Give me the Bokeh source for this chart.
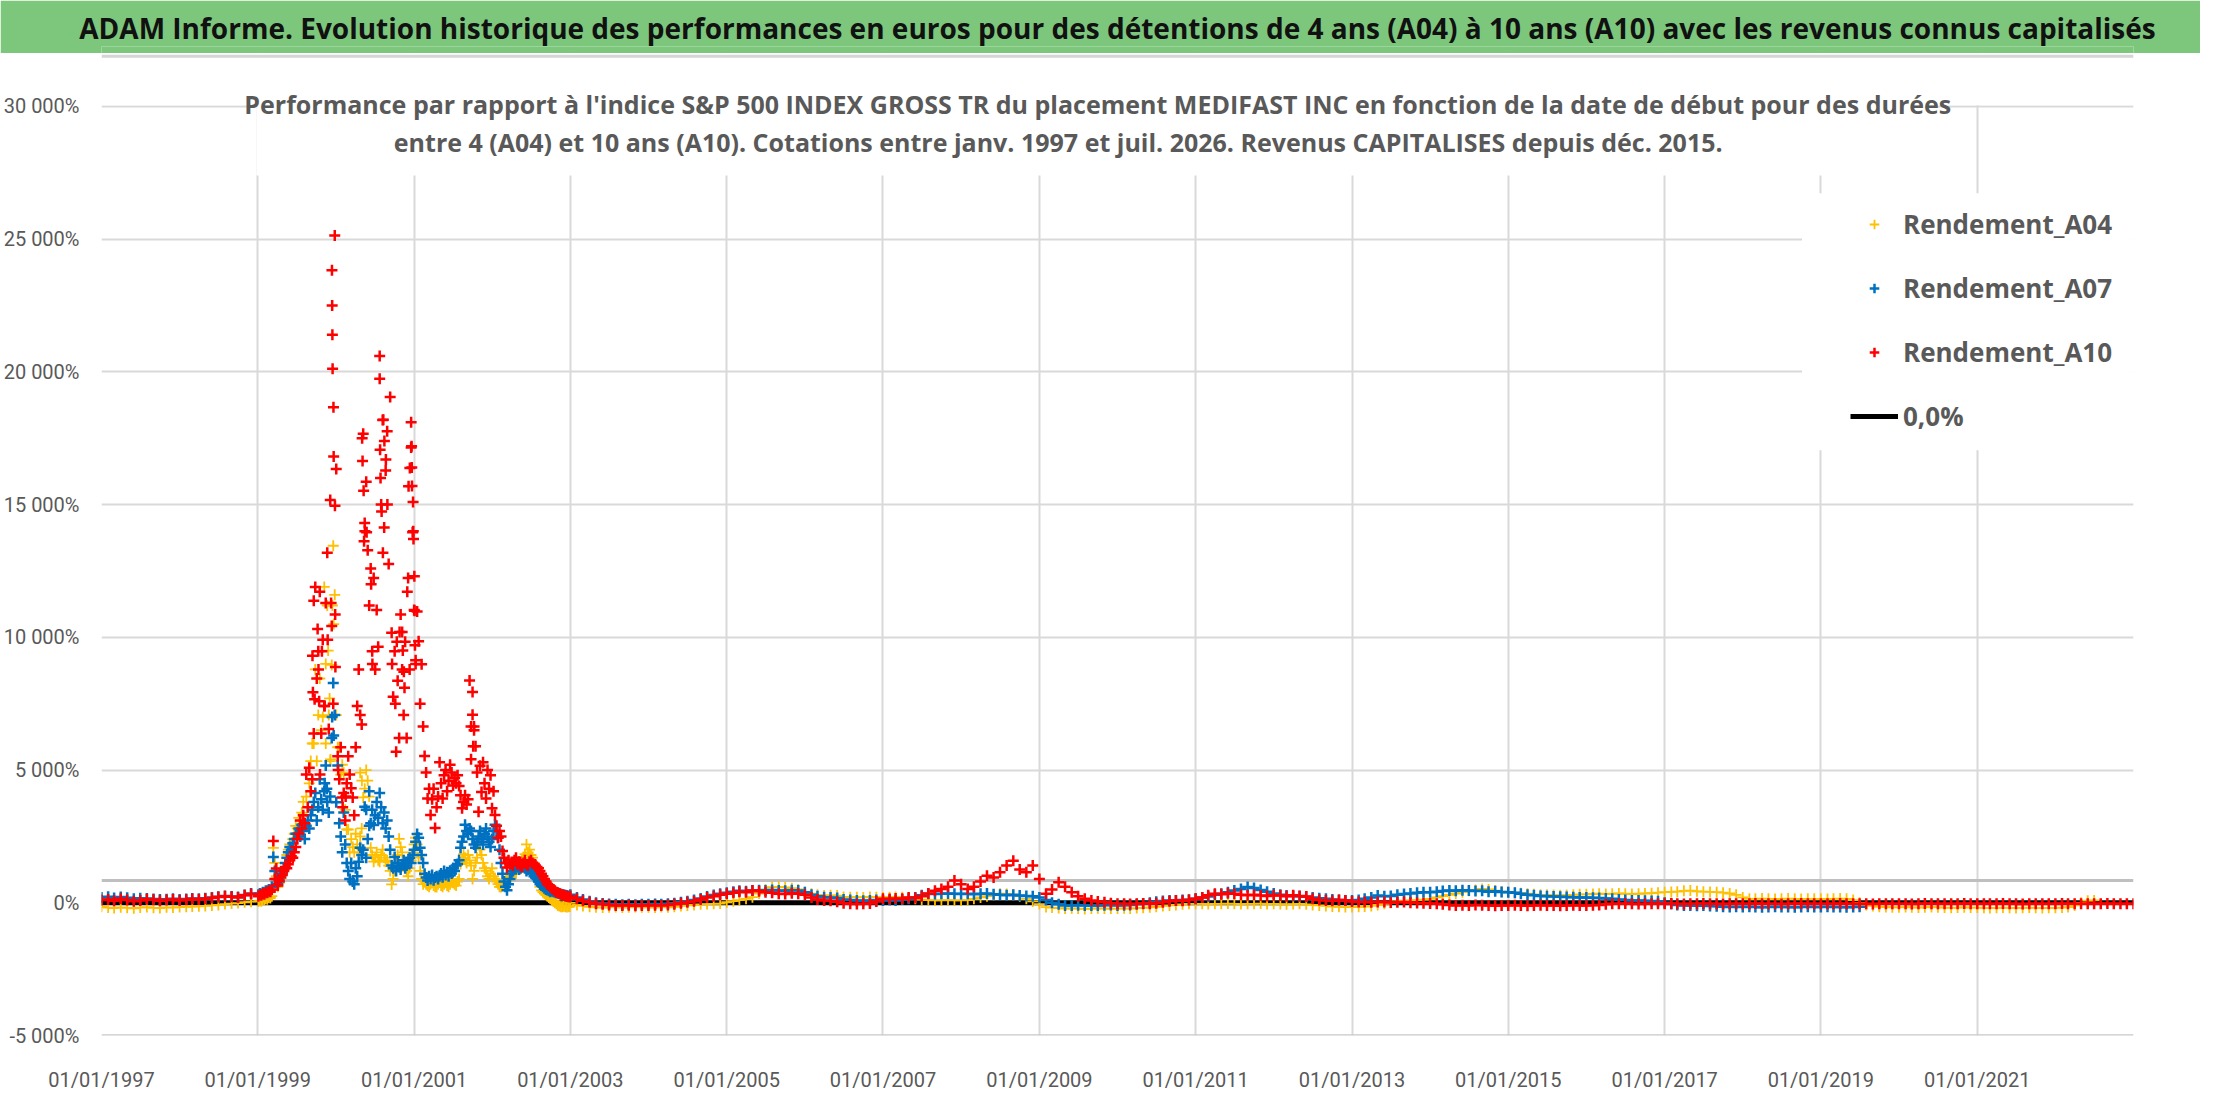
import pandas as pd
from bokeh.plotting import figure
from bokeh.models import (ColumnDataSource, FixedTicker, DatetimeTickFormatter, Span,
                          BoxAnnotation, Label, Legend, LegendItem, Range1d)
from bokeh.layouts import column
from bokeh.embed import file_html
from bokeh.resources import INLINE

# ---------------- texts ----------------
TITLE = ("ADAM Informe. Evolution historique des performances en euros pour des "
         "détentions de 4 ans (A04) à 10 ans (A10) avec les revenus connus capitalisés")
SUBTITLE_1 = ("Performance par rapport à l'indice S&P 500 INDEX GROSS TR  du placement "
              "MEDIFAST INC en fonction de la date de début pour des durées")
SUBTITLE_2 = ("entre 4 (A04) et 10 ans (A10). Cotations entre janv. 1997 et juil. 2026. "
              "Revenus CAPITALISES depuis déc. 2015.")
series_labels = ["Rendement_A04", "Rendement_A07", "Rendement_A10", "0,0%"]

# ---------------- ticks ----------------
x_tick_dates = ["01/01/%d" % y for y in range(1997, 2022, 2)]
y_ticks = [-5000, 0, 5000, 10000, 15000, 20000, 25000, 30000]
y_tick_labels = ["-5 000%", "0%", "5 000%", "10 000%", "15 000%", "20 000%", "25 000%", "30 000%"]

# ---------------- data (values in %) ----------------
# monthly, 1997-01 .. 1998-12
a04_pre = [-150, -180, -200, -170, -190, -210, -180, -160, -190, -200, -170, -180,
           -160, -150, -140, -130, -120, -100, -80, -50, -30, -10, 20, 40]
a07_pre = [200, 230, 180, 220, 190, 150, 170, 160, 140, 120, 130, 150,
           120, 140, 160, 150, 170, 200, 230, 260, 240, 220, 290, 350]
a10_pre = [100, 120, 80, 150, 100, 60, 90, 130, 110, 80, 100, 120,
           90, 110, 140, 120, 150, 180, 220, 250, 230, 200, 280, 330]

# weekly, 1999-01-04 .. 2002-12-30
a04_wk = [50, 80, 60, 120, 100, 150, 130, 200, 180, 250,
          2070, 1500, 1000,
          600, 750, 900, 1100, 1300, 1500, 1800, 2000, 2200, 2100, 2400, 2600, 2900,
          2800, 3200, 2900, 3400, 3800, 3000, 4000, 3600, 4500, 5340, 6000,
          6000, 8790, 5340, 7070, 8450, 6500, 7000, 11900, 9000, 11200, 7070, 5340,
          8960, 13450, 11600, 7070, 5860,
          5860, 4830, 5200, 4900, 3500, 2760,
          2760, 1900, 2400, 2100, 1900, 2600, 2200, 1900, 2500, 2800,
          3970, 4300, 5000, 4600, 4000,
          2070, 1800, 1550, 1700, 1900, 1600, 1550, 1800, 2000, 1700, 1550, 1600, 1400, 1200,
          690, 900, 1200, 1500, 1800, 2410, 2100, 1900, 1600, 1400, 1200, 1000, 1300, 1600, 1900, 2200,
          2450, 2200, 1700, 1200, 900, 700,
          800, 700, 650, 600, 700, 750, 650, 600, 590, 700, 800, 650, 600, 700, 750, 650,
          600, 700, 800, 750, 700, 650, 800, 900,
          1460, 1600, 1830, 1700, 1500, 1800, 1600, 1400, 900, 1200, 1500, 1700,
          2200, 2000, 1800, 1500, 1300, 1200, 1000, 900, 1100, 1300, 1000,
          900, 800, 700, 600, 590, 650, 700, 800, 860, 900, 1000,
          1000, 1100, 1200, 1100, 1300, 1400, 1500, 1600, 1700, 1830, 2200, 1900, 2000, 1800,
          1700, 1500, 1300, 1000, 800, 600,
          470, 400, 350, 300, 250, 200, 150,
          100, 50, 0, -50, -100, -120, -150, -150, -130, -150, -160, -150, -140]
a07_wk = [300, 350, 320, 400, 380, 450, 420, 500, 480, 600,
          1720, 1200, 900,
          700, 850, 1000, 1100, 1250, 1500, 1700, 1900, 2100, 2000, 2240, 2400, 2600,
          2600, 2800, 2500, 2930, 2700, 2400, 2900, 3100, 2800, 3300, 3500,
          3800, 4140, 3100, 3600, 4650, 3900, 3500, 4200, 5170, 3800, 3400, 4000,
          6210, 8280, 7070, 3790, 5170,
          3000, 2500, 1900, 3400, 2200, 1500,
          1200, 900, 1500, 800, 700, 1300, 1000, 1550, 2070, 1800,
          2000, 3620, 1700, 2400, 2900,
          3000, 3500, 2930, 3300, 3800, 3200, 4140, 3600, 3000, 3400, 2800, 3100, 2500, 2000,
          1400, 1300, 1720, 1200, 1500, 1350, 1250, 1450, 1600, 1300, 1400, 1550, 1700, 1500, 1800, 2000,
          2300, 2590, 2450, 2070, 1800, 1500,
          1090, 950, 840, 1000, 900, 1050, 850, 950, 1000, 900,
          1000, 1100, 960, 1200, 1050, 1150, 1000, 1210, 1100, 1300, 1200, 1400, 1460, 1600,
          2070, 2300, 2500, 2940, 2700, 2600, 2800,
          2700, 2400, 2200, 2070, 2300, 2500, 2700, 2400, 2200, 2600, 2800, 2500, 2300, 2100, 2400, 2700,
          2940, 2700, 2450, 2000, 1500,
          1090, 800, 600, 470, 700, 900,
          1100, 1200, 1300, 1460, 1350, 1250, 1300, 1400, 1350, 1300, 1200, 1250, 1300, 1200,
          1100, 1000, 950, 900, 800, 700,
          650, 600, 550, 500, 480, 450, 420,
          450, 420, 400, 380, 360, 340, 320, 300, 290, 280, 270, 260, 250]
a10_wk = [250, 300, 280, 350, 320, 400, 380, 450, 420, 500,
          2330, 900, 1290,
          650, 800, 950, 1050, 1200, 1350, 1300, 1450, 1600, 1750, 1700, 1900, 2100,
          2400, 2600, 3100, 2800, 3300, 3000, 4830, 3600, 5090, 4200, 4650,
          6380, 11900, 8450,
          9480, 11720, 6380,
          9910, 7410, 11290, 13190, 6550, 15170,
          10430, 7500, 25140,
          16340, 5520,
          4650, 5860, 3970, 4140, 3100, 4500,
          5520, 4830, 4310, 3970, 3300, 5860,
          7410, 8790, 7070, 6720,
          17670, 14310, 15860, 13280, 11200,
          12590, 9480, 12240, 8790, 11030, 9650,
          20600, 15000, 18190, 14140, 16290, 17760, 12760, 19050,
          10170, 7760, 9480, 5690, 8360, 6210,
          10860, 8790, 7070, 9830, 6210,
          12240, 8790, 17150, 13960, 11030,
          9140, 10970, 9850, 7500, 8990,
          6640, 5530, 4910, 3930, 4300,
          3310, 3900, 4300, 2820, 3600, 4000,
          5290, 4500, 3930, 4800, 5000, 4200, 4600, 5200,
          4910, 4420, 4700, 4500, 4800, 4400, 4050,
          3560, 3800, 4050, 3700, 3900,
          8370, 5410, 7940, 6640, 5900, 4910,
          3430, 5160, 4170,
          5290, 4500, 3930, 5000, 4300, 4800, 3560, 4200,
          3310, 2900, 2450, 2700, 2500,
          1950, 1700, 1500, 1330, 1600, 1450,
          1500, 1400, 1600, 1700, 1450, 1550, 1400, 1350, 1500, 1600, 1450, 1400, 1550, 1600,
          1500, 1450, 1400, 1350, 1300, 1200,
          1090, 1000, 900, 800, 700, 650, 590,
          550, 500, 450, 400, 380, 350, 320, 300, 280, 260, 240, 230, 220]

# monthly from 2003-01
a04_post = [0, -80, -120, -150, -170, -180, -170, -160, -180, -170, -160, -170,
            -170, -180, -160, -170, -150, -120, -100, -80, -60, -50, -40, -30,
            20, 60, 100, 150, 210, 350, 500, 590, 600, 580, 550, 500,
            400, 340, 300, 270, 280, 270, 220, 210, 210, 200, 220, 210,
            200, 210, 220, 210, 200, 150, 120, 100, 90, 90, 100, 90,
            90, 100, 150, 200, 250, 300, 340, 330, 300, 250, 150, 50,
            -50, -160, -180, -200, -220, -210, -220, -230, -220, -210, -220, -220,
            -220, -210, -220, -200, -190, -170, -150, -120, -100, -80, -60, -40,
            -40, -40, -50, -40, -40, -30, -40, -50, -40, -40, -30, -50,
            -40, -50, -60, -50, -40, -60, -80, -100, -120, -140, -150, -160,
            -160, -150, -140, -120, -80, -40, 0, 50, 80, 90, 100, 120,
            150, 200, 250, 300, 350, 400, 450, 480, 520, 500, 460, 420,
            400, 380, 360, 340, 320, 300, 300, 290, 280, 290, 300, 320,
            320, 330, 340, 330, 340, 350, 340, 330, 340, 350, 360, 380,
            400, 410, 420, 450, 460, 430, 420, 410, 400, 380, 350, 300,
            200, 150, 150, 160, 150, 140, 150, 160, 150, 140, 150, 150,
            150, 140, 150, 160, 150, 100, 0, -80, -120, -150, -160, -170,
            -170, -160, -170, -180, -170, -160, -170, -180, -190, -180, -170, -180,
            -180, -190, -200, -190, -180, -190, -200, -190, -180, -190, -200, -190,
            -190, -180, -160, -100, 0, 80, 90]
a07_post = [300, 200, 120, 60, 0, -30, -50, -60, -70, -60, -70, -60,
            -60, -50, -60, -40, -20, 20, 60, 100, 160, 240, 290, 340,
            380, 420, 450, 430, 460, 470, 460, 480, 460, 450, 470, 460,
            400, 300, 250, 210, 200, 180, 120, 100, 90, 80, 90, 100,
            90, 100, 90, 120, 150, 200, 280, 340, 330, 340, 350, 340,
            330, 340, 320, 340, 350, 320, 300, 280, 300, 270, 260, 250,
            200, 100, 0, -60, -100, -100, -90, -100, -100, -100, -90, -80,
            -100, -90, -80, -60, -40, 0, 40, 70, 90, 90, 100, 110,
            150, 200, 240, 300, 340, 400, 460, 520, 590, 560, 480, 420,
            350, 300, 270, 260, 250, 230, 200, 170, 150, 120, 100, 90,
            90, 100, 150, 200, 270, 250, 260, 300, 330, 350, 380, 400,
            400, 420, 440, 460, 450, 470, 460, 440, 450, 420, 430, 410,
            400, 380, 340, 300, 280, 260, 250, 240, 230, 220, 210, 200,
            200, 190, 180, 160, 150, 120, 100, 90, 90, 80, 70, 60,
            0, -50, -80, -100, -100, -110, -100, -120, -130, -150, -160, -150,
            -160, -150, -160, -170, -160, -150, -160, -160, -170, -160, -150, -160,
            -160, -150, -160, -160, -170, -160, -150]
a10_post = [250, 150, 80, 20, -40, -60, -80, -100, -100, -90, -110, -100,
            -100, -90, -100, -80, -60, -20, 20, 60, 120, 200, 250, 300,
            340, 380, 420, 400, 460, 430, 400, 380, 340, 330, 360, 340,
            300, 200, 120, 90, 80, 40, -20, -40, -50, -40, -30, 50,
            150, 140, 160, 150, 200, 180, 250, 350, 450, 520, 600, 840,
            700, 520, 600, 800, 1020, 950, 1150, 1400, 1580, 1250, 1150, 1400,
            900, 340, 500, 770, 600, 400, 250, 150, 90, 50, 20, -20,
            -40, -40, -50, -40, -30, -40, -20, 20, 60, 90, 80, 100,
            150, 200, 280, 340, 320, 360, 340, 300, 280, 300, 270, 260,
            280, 270, 250, 280, 260, 240, 150, 100, 90, 80, 100, 90,
            50, 30, 25, 20, 30, 25, 10, 20, 30, 0, -10, -20,
            -30, -40, -60, -80, -100, -90, -100, -80, -90, -100, -110, -100,
            -100, -90, -100, -110, -100, -90, -100, -100, -110, -100, -90, -100,
            -100, -90, -80, -60, -40, -40, -30, -40, -50, -40, -40, -40,
            -40, -30, -40, -50, -40, -40, -30, -40, -40, -50, -40, -40,
            -40, -40, -30, -40, -40, -40, -50, -40, -40, -30, -40, -40,
            -40, -40, -40, -30, -40, -40, -40, -40, -50, -40, -40, -40,
            -40, -40, -50, -40, -30, -40, -40, -40, -40, -40, -30, -40,
            -40, -40, -40, -40, -30, -40, -40, -50, -40, -40, -40, -40,
            -40, -30, -40, -40, -40, -40, -40, -40, -30, -40, -40, -40,
            -40]

# isolated daily points of the 1999-2001 bubble
a04_extra_dates = ["1999-12-16", "1999-12-22", "1999-11-26", "1999-12-03", "1999-11-15",
                   "1999-12-07", "2000-04-24", "2000-05-02"]
a04_extra_vals = [11200, 10500, 9500, 7700, 6000, 5400, 4900, 4600]
a07_extra_dates = ["1999-12-15", "1999-12-22", "1999-11-10", "1999-11-20", "2000-05-22", "2000-06-05"]
a07_extra_vals = [7000, 6300, 4500, 4300, 3500, 4200]
a10_extra_dates = ["1999-09-14", "1999-09-16", "1999-09-20", "1999-09-24", "1999-10-08",
                   "1999-10-12", "1999-10-15", "1999-10-19", "1999-10-28", "1999-11-10",
                   "1999-11-24", "1999-12-10", "1999-12-14", "1999-12-15", "1999-12-16",
                   "1999-12-17", "1999-12-21", "1999-12-22", "1999-12-28", "1999-12-29",
                   "1999-12-30", "2000-01-12", "2000-02-02", "2000-02-16", "2000-05-03",
                   "2000-05-05", "2000-05-10", "2000-05-12", "2000-05-16", "2000-05-24",
                   "2000-06-14", "2000-06-20", "2000-07-24", "2000-07-26", "2000-07-28",
                   "2000-08-02", "2000-08-08", "2000-08-10", "2000-08-15", "2000-08-22",
                   "2000-08-29", "2000-09-20", "2000-10-05", "2000-10-12", "2000-10-25",
                   "2000-11-06", "2000-11-09", "2000-11-14", "2000-11-17", "2000-11-30",
                   "2000-12-06", "2000-12-12", "2000-12-18", "2000-12-20", "2000-12-21",
                   "2000-12-22", "2000-12-27", "2000-12-28", "2000-12-29", "2001-01-02",
                   "2001-01-03", "2001-01-05", "2001-01-08", "2001-09-24", "2001-10-01",
                   "2001-10-04", "2001-10-08"]
a10_extra_vals = [9310, 7930, 11380, 7670, 10310,
                  8790, 7590, 4830, 9480, 7410,
                  9910, 11290, 23830, 22500, 21400,
                  20120, 18670, 16810, 14960, 10860,
                  8880, 5000, 3600, 4000, 17500,
                  16640, 15520, 13620, 14000, 13960,
                  12000, 9000, 19740, 17070, 16000,
                  14740, 13190, 18200, 17400, 16700,
                  15000, 9000, 7500, 9830, 10200,
                  10200, 9500, 8700, 8100, 11720,
                  15690, 16380, 18100, 17200, 16400,
                  15700, 15100, 14000, 13700, 12300,
                  11000, 9700, 9000, 6640, 7080,
                  5900, 6500]

zero_dates = ["1997-01-01", "2023-01-01"]
zero_vals = [0, 0]

x_start, x_end = "1997-01-01", "2023-01-01"
y_top = 31995  # frame extends above the 30 000% line (up to the title band)


def make_source(pre, wk, post, xd, xv):
    d = (list(pd.date_range("1997-01-01", periods=len(pre), freq="MS"))
         + list(pd.date_range("1999-01-04", periods=len(wk), freq="7D"))
         + list(pd.date_range("2003-01-01", periods=len(post), freq="MS"))
         + [pd.Timestamp(s) for s in xd])
    return ColumnDataSource(dict(x=pd.DatetimeIndex(d).values, y=list(pre) + list(wk) + list(post) + list(xv)))


def ms(s):
    return pd.Timestamp(s).value / 1e6


src04 = make_source(a04_pre, a04_wk, a04_post, a04_extra_dates, a04_extra_vals)
src07 = make_source(a07_pre, a07_wk, a07_post, a07_extra_dates, a07_extra_vals)
src10 = make_source(a10_pre, a10_wk, a10_post, a10_extra_dates, a10_extra_vals)
src0 = ColumnDataSource(dict(x=pd.DatetimeIndex(zero_dates).values, y=zero_vals))

GRAY_TXT = "#595959"
GREEN = "#7dc77d"

# ---------------- header band (title lives in the unclipped title panel) ----------------
header = figure(width=2200, height=53, x_range=Range1d(0, 1), y_range=Range1d(0, 1),
                toolbar_location=None, output_backend="svg",
                x_axis_location=None, y_axis_location=None,
                min_border_left=0, min_border_right=0, min_border_bottom=0, min_border_top=46)
header.grid.visible = False
header.background_fill_color = GREEN
header.border_fill_color = GREEN
header.outline_line_color = None
header.title.text = TITLE
header.title.align = "center"
header.title.offset = -10
header.title.standoff = 0
header.title.text_font = "Open Sans"
header.title.text_font_style = "bold"
header.title.text_font_size = "28px"
header.title.text_color = "#111111"

# ---------------- main chart ----------------
p = figure(width=2200, height=1041, x_axis_type="datetime",
           x_range=Range1d(ms(x_start), ms(x_end)), y_range=Range1d(y_ticks[0], y_top),
           toolbar_location=None, output_backend="svg",
           min_border_left=90, min_border_right=67, min_border_top=0, min_border_bottom=58)
p.outline_line_color = None
p.background_fill_color = "white"

xt = FixedTicker(ticks=[ms(pd.to_datetime(s, format="%d/%m/%Y")) for s in x_tick_dates])
p.xaxis.ticker = xt
p.xgrid.ticker = xt
fmt = "%d/%m/%Y"
p.xaxis.formatter = DatetimeTickFormatter(microseconds=fmt, milliseconds=fmt, seconds=fmt, minsec=fmt,
                                          minutes=fmt, hourmin=fmt, hours=fmt, days=fmt,
                                          months=fmt, years=fmt)
yt = FixedTicker(ticks=y_ticks)
p.yaxis.ticker = yt
p.ygrid.ticker = yt
p.yaxis.major_label_overrides = {t: l for t, l in zip(y_ticks, y_tick_labels)}

for ax in (p.xaxis, p.yaxis):
    ax.axis_line_color = None
    ax.major_tick_line_color = None
    ax.minor_tick_line_color = None
    ax.major_label_text_color = GRAY_TXT
    ax.major_label_text_font = "Roboto"
    ax.major_label_text_font_size = "20px"
p.xaxis.major_label_standoff = 26
p.yaxis.major_label_standoff = 16

for g in (p.xgrid, p.ygrid):
    g.grid_line_color = "#d9d9d9"
    g.grid_line_width = 2

p.add_layout(Span(location=840, dimension="width", line_color="#bfbfbf", line_width=3, level="underlay"))
p.add_layout(Span(location=-5000, dimension="width", line_color="#c8c8c8", line_width=2.5, level="underlay"))

r0 = p.line("x", "y", source=src0, line_color="black", line_width=5)
r04 = p.scatter("x", "y", source=src04, marker="cross", size=11, line_color="#FFC000", line_width=1.8)
r07 = p.scatter("x", "y", source=src07, marker="cross", size=11, line_color="#0070C0", line_width=2.5)
r10 = p.scatter("x", "y", source=src10, marker="cross", size=11, line_color="#FF0000", line_width=2.5)

# white panels: above the plot area, behind the subtitle and behind the legend
p.add_layout(BoxAnnotation(left=ms("1996-06-01"), right=ms("2023-06-01"), bottom=30045, top=33000,
                           fill_color="white", fill_alpha=1, line_alpha=0))
p.add_layout(BoxAnnotation(left=ms("1998-12-26"), right=ms("2020-06-20"), bottom=27400, top=33000,
                           fill_color="white", fill_alpha=1, line_alpha=0))
p.add_layout(BoxAnnotation(left=ms("2018-10-05"), right=ms("2023-06-01"), bottom=17050, top=26730,
                           fill_color="white", fill_alpha=1, line_alpha=0))
# thin separator under the title band
p.add_layout(Span(location=31890, dimension="width", line_color="#d5d5d5", line_width=3))

for txt, xd, yv in ((SUBTITLE_1, "2009-10-16", 30076), (SUBTITLE_2, "2009-03-30", 28646)):
    p.add_layout(Label(x=ms(xd), y=yv, text=txt, text_align="center", text_baseline="middle",
                       text_font="Open Sans", text_font_style="bold", text_font_size="25px",
                       text_color=GRAY_TXT))

leg_common = dict(padding=0, border_line_alpha=0, background_fill_alpha=0,
                  label_text_font="Open Sans", label_text_font_style="bold",
                  label_text_font_size="26px", label_text_color=GRAY_TXT,
                  label_height=36, glyph_height=36)
leg1 = Legend(items=[LegendItem(label=series_labels[0], renderers=[r04]),
                     LegendItem(label=series_labels[1], renderers=[r07]),
                     LegendItem(label=series_labels[2], renderers=[r10])],
              location=(1761, 665), glyph_width=24, label_standoff=17, spacing=28, **leg_common)
leg2 = Legend(items=[LegendItem(label=series_labels[3], renderers=[r0])],
              location=(1749, 601), glyph_width=48, label_standoff=5, spacing=0, **leg_common)
p.add_layout(leg1)
p.add_layout(leg2)

layout = column(header, p)
open("out.html", "w").write(file_html(layout, INLINE))
